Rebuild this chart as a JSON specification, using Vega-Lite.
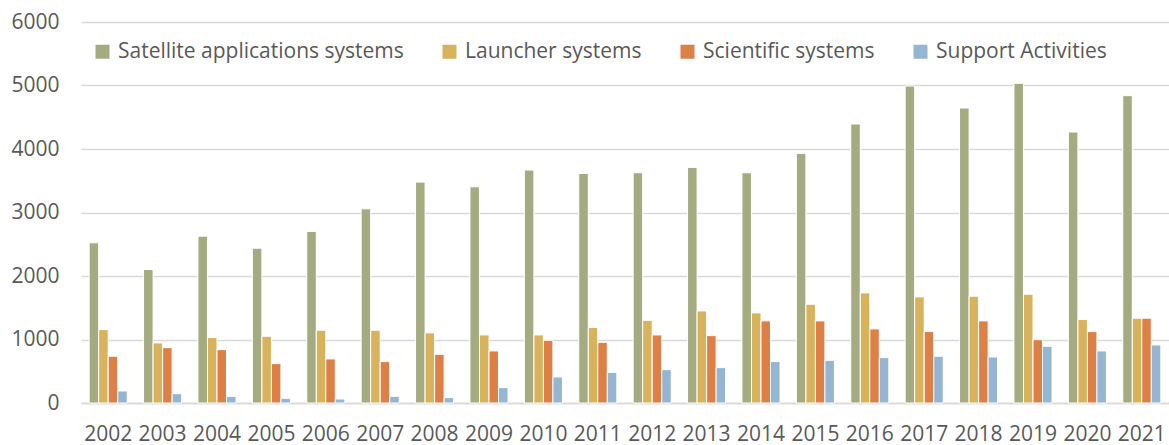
{
  "$schema": "https://vega.github.io/schema/vega-lite/v6.json",
  "autosize": {"type": "none"},
  "width": 1088,
  "height": 381,
  "padding": {"left": 81, "top": 22, "right": 0, "bottom": 42},
  "background": "white",
  "config": {"view": {"stroke": null}, "font": "Open Sans"},
  "data": {"values": [
    {"year":"2002","series":"Satellite applications systems","value":2522},
    {"year":"2002","series":"Launcher systems","value":1156},
    {"year":"2002","series":"Scientific systems","value":736},
    {"year":"2002","series":"Support Activities","value":189},
    {"year":"2003","series":"Satellite applications systems","value":2102},
    {"year":"2003","series":"Launcher systems","value":946},
    {"year":"2003","series":"Scientific systems","value":872},
    {"year":"2003","series":"Support Activities","value":147},
    {"year":"2004","series":"Satellite applications systems","value":2627},
    {"year":"2004","series":"Launcher systems","value":1030},
    {"year":"2004","series":"Scientific systems","value":841},
    {"year":"2004","series":"Support Activities","value":105},
    {"year":"2005","series":"Satellite applications systems","value":2438},
    {"year":"2005","series":"Launcher systems","value":1051},
    {"year":"2005","series":"Scientific systems","value":620},
    {"year":"2005","series":"Support Activities","value":74},
    {"year":"2006","series":"Satellite applications systems","value":2701},
    {"year":"2006","series":"Launcher systems","value":1146},
    {"year":"2006","series":"Scientific systems","value":694},
    {"year":"2006","series":"Support Activities","value":63},
    {"year":"2007","series":"Satellite applications systems","value":3058},
    {"year":"2007","series":"Launcher systems","value":1146},
    {"year":"2007","series":"Scientific systems","value":652},
    {"year":"2007","series":"Support Activities","value":105},
    {"year":"2008","series":"Satellite applications systems","value":3479},
    {"year":"2008","series":"Launcher systems","value":1104},
    {"year":"2008","series":"Scientific systems","value":767},
    {"year":"2008","series":"Support Activities","value":84},
    {"year":"2009","series":"Satellite applications systems","value":3405},
    {"year":"2009","series":"Launcher systems","value":1072},
    {"year":"2009","series":"Scientific systems","value":820},
    {"year":"2009","series":"Support Activities","value":242},
    {"year":"2010","series":"Satellite applications systems","value":3668},
    {"year":"2010","series":"Launcher systems","value":1072},
    {"year":"2010","series":"Scientific systems","value":988},
    {"year":"2010","series":"Support Activities","value":410},
    {"year":"2011","series":"Satellite applications systems","value":3615},
    {"year":"2011","series":"Launcher systems","value":1188},
    {"year":"2011","series":"Scientific systems","value":956},
    {"year":"2011","series":"Support Activities","value":483},
    {"year":"2012","series":"Satellite applications systems","value":3626},
    {"year":"2012","series":"Launcher systems","value":1303},
    {"year":"2012","series":"Scientific systems","value":1072},
    {"year":"2012","series":"Support Activities","value":525},
    {"year":"2013","series":"Satellite applications systems","value":3710},
    {"year":"2013","series":"Launcher systems","value":1450},
    {"year":"2013","series":"Scientific systems","value":1061},
    {"year":"2013","series":"Support Activities","value":557},
    {"year":"2014","series":"Satellite applications systems","value":3626},
    {"year":"2014","series":"Launcher systems","value":1419},
    {"year":"2014","series":"Scientific systems","value":1293},
    {"year":"2014","series":"Support Activities","value":652},
    {"year":"2015","series":"Satellite applications systems","value":3931},
    {"year":"2015","series":"Launcher systems","value":1555},
    {"year":"2015","series":"Scientific systems","value":1293},
    {"year":"2015","series":"Support Activities","value":673},
    {"year":"2016","series":"Satellite applications systems","value":4393},
    {"year":"2016","series":"Launcher systems","value":1734},
    {"year":"2016","series":"Scientific systems","value":1167},
    {"year":"2016","series":"Support Activities","value":715},
    {"year":"2017","series":"Satellite applications systems","value":4992},
    {"year":"2017","series":"Launcher systems","value":1671},
    {"year":"2017","series":"Scientific systems","value":1125},
    {"year":"2017","series":"Support Activities","value":736},
    {"year":"2018","series":"Satellite applications systems","value":4645},
    {"year":"2018","series":"Launcher systems","value":1682},
    {"year":"2018","series":"Scientific systems","value":1293},
    {"year":"2018","series":"Support Activities","value":725},
    {"year":"2019","series":"Satellite applications systems","value":5034},
    {"year":"2019","series":"Launcher systems","value":1713},
    {"year":"2019","series":"Scientific systems","value":998},
    {"year":"2019","series":"Support Activities","value":893},
    {"year":"2020","series":"Satellite applications systems","value":4267},
    {"year":"2020","series":"Launcher systems","value":1314},
    {"year":"2020","series":"Scientific systems","value":1125},
    {"year":"2020","series":"Support Activities","value":820},
    {"year":"2021","series":"Satellite applications systems","value":4840},
    {"year":"2021","series":"Launcher systems","value":1335},
    {"year":"2021","series":"Scientific systems","value":1335},
    {"year":"2021","series":"Support Activities","value":914}
  ]},
  "mark": {"type": "bar", "stroke": "white", "strokeWidth": 1},
  "encoding": {
    "x": {
      "field": "year", "type": "nominal", "title": null,
      "scale": {"paddingInner": 0.3, "paddingOuter": 0.15},
      "axis": {"labelAngle": 0, "labelFontSize": 21, "labelColor": "#595959", "labelPadding": 20, "ticks": false, "domain": true, "domainColor": "#D9D9D9", "domainWidth": 1.5}
    },
    "xOffset": {"field": "series", "type": "nominal", "sort": ["Satellite applications systems","Launcher systems","Scientific systems","Support Activities"], "scale": {"paddingInner": 0}},
    "y": {
      "field": "value", "type": "quantitative", "title": null,
      "scale": {"domain": [0, 6000], "nice": false},
      "axis": {"values": [0,1000,2000,3000,4000,5000,6000], "format": "d", "labelFontSize": 21, "labelColor": "#595959", "labelPadding": 22, "ticks": false, "domain": false, "gridColor": "#D9D9D9", "gridWidth": 1.5}
    },
    "color": {
      "field": "series", "type": "nominal",
      "sort": ["Satellite applications systems","Launcher systems","Scientific systems","Support Activities"],
      "scale": {"domain": ["Satellite applications systems","Launcher systems","Scientific systems","Support Activities"], "range": ["#A5AB81","#D8B25C","#DD8047","#94B6D2"]},
      "legend": {"title": null, "orient": "none", "legendX": 11, "legendY": 19, "direction": "horizontal", "symbolType": "square", "symbolSize": 196, "symbolStrokeWidth": 0, "labelFontSize": 21, "labelColor": "#595959", "labelOffset": 5, "columnPadding": 35, "labelLimit": 400}
    }
  }
}
